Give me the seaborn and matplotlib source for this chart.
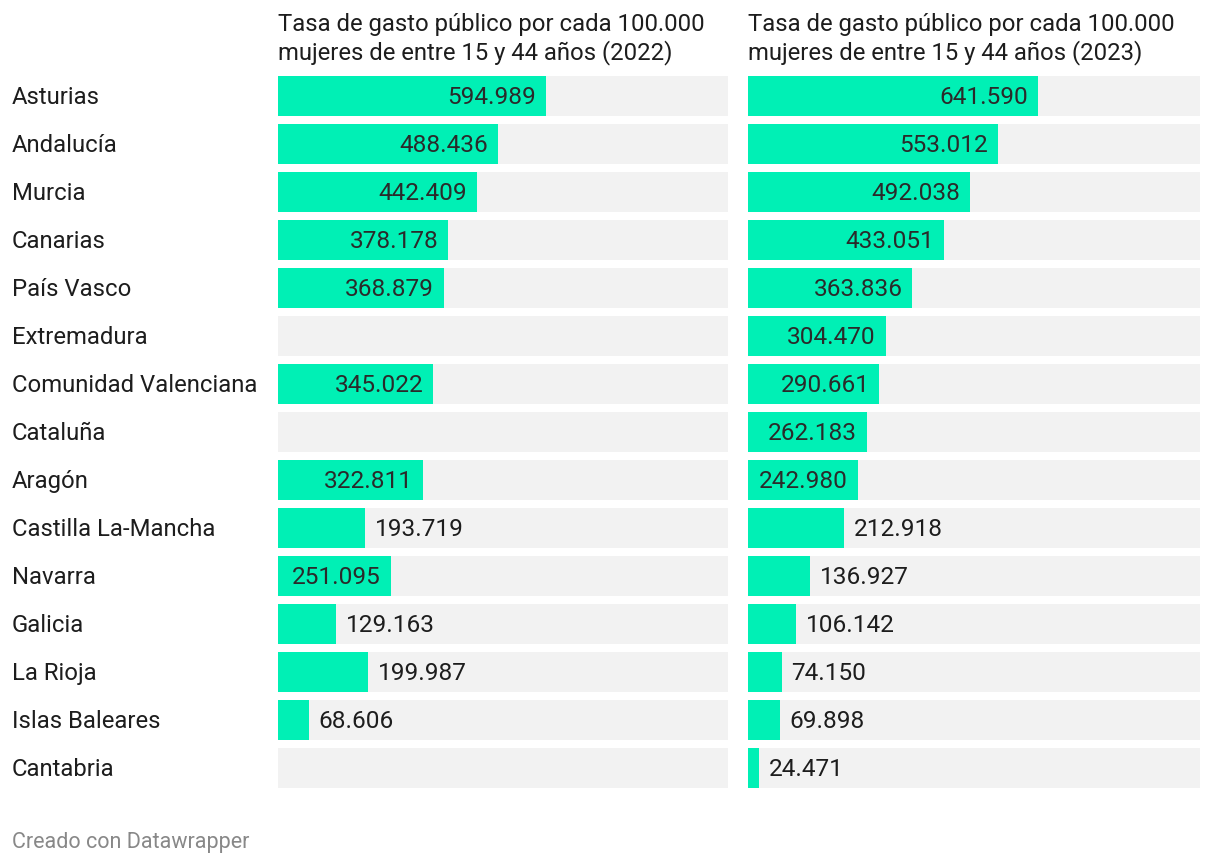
import matplotlib.pyplot as plt
import matplotlib.transforms as mtransforms
import numpy as np
import pandas as pd
import seaborn as sns

sns.set_theme(style="white")
plt.rcParams['font.family'] = ['Roboto', 'DejaVu Sans']

# data
regions = ["Asturias", "Andalucía", "Murcia", "Canarias", "País Vasco", "Extremadura",
           "Comunidad Valenciana", "Cataluña", "Aragón", "Castilla La-Mancha", "Navarra",
           "Galicia", "La Rioja", "Islas Baleares", "Cantabria"]
rate_2022 = [594989, 488436, 442409, 378178, 368879, np.nan, 345022, np.nan, 322811,
             193719, 251095, 129163, 199987, 68606, np.nan]
rate_2023 = [641590, 553012, 492038, 433051, 363836, 304470, 290661, 262183, 242980,
             212918, 136927, 106142, 74150, 69898, 24471]
titles = ["Tasa de gasto público por cada 100.000\nmujeres de entre 15 y 44 años (2022)",
          "Tasa de gasto público por cada 100.000\nmujeres de entre 15 y 44 años (2023)"]
x_max = 1000000

BAR = "#00f0b5"
BG = "#f2f2f2"
TXT = "#1d1d1d"
VAL = "#2a2a2a"
W, H = 1220, 864
FS = 17.2

fig = plt.figure(figsize=(12.2, 8.64), dpi=100)
ax1 = fig.add_axes([278 / W, 1 - 792 / H, 450 / W, 720 / H])
ax2 = fig.add_axes([748 / W, 1 - 792 / H, 452 / W, 720 / H])

def fmt(v):
    return f"{int(v):,}".replace(",", ".")

fig.canvas.draw()
renderer = fig.canvas.get_renderer()
dy = -1 / 48  # nudge text up ~1px

for ax, vals, title in [(ax1, rate_2022, titles[0]), (ax2, rate_2023, titles[1])]:
    df = pd.DataFrame({"region": regions, "value": vals})
    sns.barplot(x=[x_max] * len(regions), y=regions, order=regions, orient="h",
                color=BG, width=40 / 48, ax=ax, errorbar=None, saturation=1, linewidth=0)
    d = df.dropna()
    sns.barplot(data=d, x="value", y="region", order=regions, orient="h",
                color=BAR, width=40 / 48, ax=ax, errorbar=None, saturation=1, linewidth=0)
    ax.set_xlim(0, x_max)
    ax.set_ylim(len(regions) - 0.5, -0.5)
    ax.axis("off")

    px_per_unit = ax.bbox.width / x_max
    pad = 10 / px_per_unit
    for i, v in enumerate(vals):
        if np.isnan(v):
            continue
        t = ax.text(v - pad, i + dy, fmt(v), ha="right", va="center_baseline",
                    fontsize=17.6, color=VAL)
        tw = t.get_window_extent(renderer).width
        if v * px_per_unit < tw + 20:
            t.set_x(v + pad)
            t.set_ha("left")
            t.set_color(TXT)

    ax.text(0, 1 + 7 / 720, title, transform=ax.transAxes, ha="left", va="bottom",
            fontsize=FS, color=TXT, linespacing=1.2)

# category labels on the left
trans = mtransforms.blended_transform_factory(fig.transFigure, ax1.transData)
for i, r in enumerate(regions):
    fig.text(12 / W, i + dy, r, transform=trans, ha="left", va="center_baseline",
             fontsize=FS, color=TXT)

fig.text(12 / W, 1 - 840 / H, "Creado con Datawrapper", ha="left", va="center_baseline",
         fontsize=15.5, color="#888888")

fig.savefig("out.png", dpi=100, facecolor="white")
